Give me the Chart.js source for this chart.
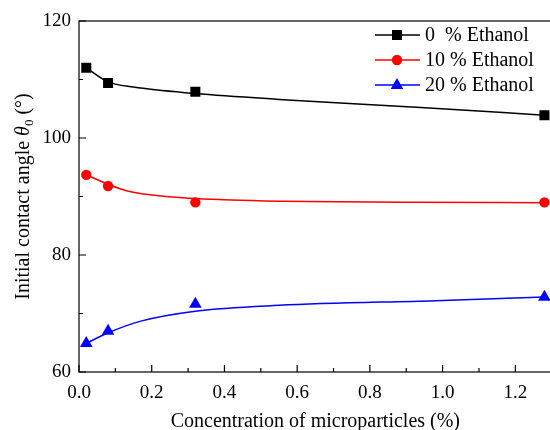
<!DOCTYPE html>
<html>
<head>
<meta charset="utf-8">
<script src="https://cdn.jsdelivr.net/npm/chart.js@4.4.1/dist/chart.umd.min.js"></script>
<style>
  html, body { margin: 0; padding: 0; background: #fff; overflow: hidden; }
  canvas { display: block; }
</style>
</head>
<body>
<canvas id="angleChart" width="559" height="430"></canvas>
<script>
// measured points
const conc = [0.02, 0.08, 0.32, 1.28];
const eth0 = [112.0, 109.4, 107.9, 103.9];
const eth10 = [93.7, 91.8, 89.0, 89.0];
const eth20 = [64.9, 67.0, 71.6, 72.8];

// fitted curves
const fitX0 = [0.02, 0.08, 0.15, 0.32, 0.55, 0.94, 1.28];
const fitY0 = [112.0, 109.6, 108.7, 107.6, 106.6, 105.2, 103.9];
const fitX10 = [0.02, 0.08, 0.13, 0.24, 0.42, 0.55, 0.89, 1.28];
const fitY10 = [93.7, 92.1, 91.0, 90.0, 89.4, 89.2, 89.0, 88.95];
const fitX20 = [0.02, 0.08, 0.17, 0.32, 0.55, 0.98, 1.28];
const fitY20 = [64.9, 66.7, 68.7, 70.4, 71.4, 72.2, 72.8];

const xTicks = [0, 0.2, 0.4, 0.6, 0.8, 1.0, 1.2];
const yTicks = [60, 80, 100, 120];

const seriesNames = ['0  % Ethanol', '10 % Ethanol', '20 % Ethanol'];
const seriesColors = ['#000000', '#ff0000', '#0000ff'];
const seriesMarkers = ['rect', 'circle', 'triangle'];

const serif = '"Liberation Serif", "DejaVu Serif", serif';

const toXY = (xs, ys) => xs.map((x, i) => ({ x: x, y: ys[i] }));

function drawMarker(ctx, style, x, y, color) {
  ctx.save();
  ctx.fillStyle = color;
  ctx.beginPath();
  if (style === 'rect') {
    ctx.rect(x - 5, y - 5, 10, 10);
  } else if (style === 'circle') {
    ctx.arc(x, y, 5.2, 0, Math.PI * 2);
  } else {
    ctx.moveTo(x, y - 7);
    ctx.lineTo(x + 6.3, y + 4);
    ctx.lineTo(x - 6.3, y + 4);
    ctx.closePath();
  }
  ctx.fill();
  ctx.restore();
}

// frame, inward ticks, y title and legend
const decor = {
  id: 'decor',
  afterDatasetsDraw(chart) {
    const ctx = chart.ctx;
    const a = chart.chartArea;
    const xs = chart.scales.x, ys = chart.scales.y;
    ctx.save();
    ctx.strokeStyle = '#000';
    ctx.lineWidth = 1.2;
    ctx.strokeRect(a.left, a.top, a.right - a.left, a.bottom - a.top);

    ctx.beginPath();
    for (let k = 0; k <= 13; k++) {
      const px = xs.getPixelForValue(k / 10);
      ctx.moveTo(px, a.bottom);
      ctx.lineTo(px, a.bottom - (k % 2 === 0 ? 7 : 4));
    }
    for (let v = 60; v <= 120; v += 10) {
      const py = ys.getPixelForValue(v);
      ctx.moveTo(a.left, py);
      ctx.lineTo(a.left + (v % 20 === 0 ? 7 : 4), py);
    }
    ctx.stroke();

    // y axis title with italic theta and subscript
    ctx.save();
    ctx.translate(24, (a.top + a.bottom) / 2);
    ctx.rotate(-Math.PI / 2);
    ctx.fillStyle = '#000';
    ctx.textBaseline = 'middle';
    const parts = [
      ['20px ' + serif, 'Initial contact angle ', 0],
      ['italic 20px ' + serif, '\u03b8', 0],
      ['13px ' + serif, '0', 6],
      ['20px ' + serif, ' (\u00b0)', 0]
    ];
    let total = 0;
    parts.forEach(p => { ctx.font = p[0]; total += ctx.measureText(p[1]).width; });
    let cx = -total / 2;
    parts.forEach(p => {
      ctx.font = p[0];
      ctx.textAlign = 'left';
      ctx.fillText(p[1], cx, p[2]);
      cx += ctx.measureText(p[1]).width;
    });
    ctx.restore();

    // legend
    ctx.font = '20px ' + serif;
    ctx.textBaseline = 'middle';
    ctx.textAlign = 'left';
    seriesNames.forEach((name, i) => {
      const ly = 35 + i * 25;
      ctx.strokeStyle = seriesColors[i];
      ctx.lineWidth = 1.5;
      ctx.beginPath();
      ctx.moveTo(375, ly);
      ctx.lineTo(420, ly);
      ctx.stroke();
      drawMarker(ctx, seriesMarkers[i], 397, ly, seriesColors[i]);
      ctx.fillStyle = '#000';
      ctx.fillText(name, 425, ly + 1);
    });
    ctx.restore();
  }
};

const pointSets = [eth0, eth10, eth20];
const fitSets = [[fitX0, fitY0], [fitX10, fitY10], [fitX20, fitY20]];

const datasets = [];
fitSets.forEach((fs, i) => {
  datasets.push({
    label: seriesNames[i] + ' fit',
    data: toXY(fs[0], fs[1]),
    showLine: true,
    borderColor: seriesColors[i],
    borderWidth: 1.5,
    pointRadius: 0,
    cubicInterpolationMode: 'monotone',
    fill: false
  });
});
pointSets.forEach((ys, i) => {
  datasets.push({
    label: seriesNames[i],
    data: toXY(conc, ys),
    showLine: false,
    pointStyle: seriesMarkers[i],
    pointRadius: [7.1, 5.2, 7.3][i],
    backgroundColor: seriesColors[i],
    borderColor: seriesColors[i],
    borderWidth: 0
  });
});

new Chart(document.getElementById('angleChart'), {
  type: 'scatter',
  data: { datasets: datasets },
  options: {
    responsive: false,
    animation: false,
    devicePixelRatio: 1,
    layout: { padding: { top: 21, right: 3, left: 0, bottom: -4 } },
    plugins: { legend: { display: false }, tooltip: { enabled: false } },
    scales: {
      x: {
        type: 'linear',
        min: 0, max: 1.3,
        grid: { display: false, drawTicks: false },
        border: { display: false },
        afterBuildTicks(s) { s.ticks = xTicks.map(v => ({ value: v })); },
        afterFit(s) { s.height = 62; s.paddingRight = 0; },
        ticks: {
          padding: 10,
          color: '#000',
          font: { family: serif, size: 19 },
          callback: v => v.toFixed(1)
        },
        title: {
          display: true,
          text: 'Concentration of microparticles (%)',
          color: '#000',
          font: { family: serif, size: 20 },
          padding: { top: 4, bottom: 0 }
        }
      },
      y: {
        min: 60, max: 120,
        grid: { display: false, drawTicks: false },
        border: { display: false },
        afterBuildTicks(s) { s.ticks = yTicks.map(v => ({ value: v })); },
        afterFit(s) { s.width = 79; },
        ticks: {
          padding: 8,
          color: '#000',
          font: { family: serif, size: 19 }
        }
      }
    }
  },
  plugins: [decor]
});
</script>
</body>
</html>
